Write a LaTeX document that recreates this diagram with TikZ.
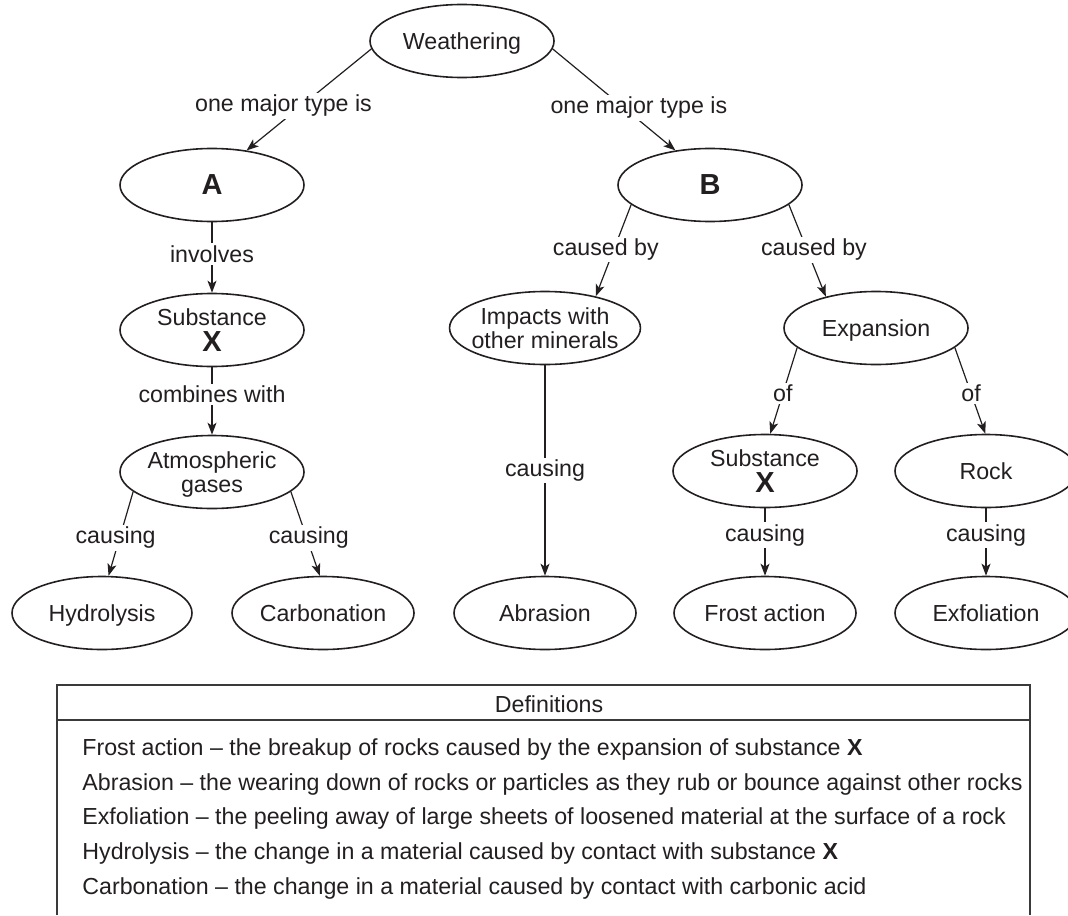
\documentclass[tikz,border=0pt]{standalone}
\usepackage{fontspec}
\setmainfont{Liberation Sans}
\usetikzlibrary{arrows.meta,shapes.geometric}
\definecolor{InkGray}{HTML}{231F20}
\definecolor{FrameGray}{HTML}{3A3A3A}

\begin{document}
\begin{tikzpicture}[x=0.5pt,y=-0.5pt,font=\fontsize{11.6}{12}\selectfont,text=InkGray]
    \tikzset{conceptbox/.style={ellipse,draw=InkGray,line width=0.8pt,minimum width=92pt,minimum height=36.5pt,inner sep=0pt,text depth=0pt,align=center},
      link/.style={draw=InkGray,line width=0.6pt,-{Stealth[length=6pt,width=4.5pt,inset=1.5pt]}},
      linklabel/.style={fill=white,inner sep=1pt},
      bigletter/.style={font=\fontsize{14.5}{16}\selectfont\bfseries},
      defline/.style={anchor=west,inner sep=0pt}}
    \useasboundingbox (0,0) rectangle (1068,915);
    \node[conceptbox] (weather) at (462,41) {Weathering};
    \node[conceptbox,bigletter] (typea) at (212,185) {A};
    \node[conceptbox,bigletter] (typeb) at (710,185) {B};
    \node[conceptbox] (substl) at (212,330) {Substance\\[1pt]{\fontsize{14.5}{14}\selectfont\bfseries X}};
    \node[conceptbox] (atmos) at (212,472) {Atmospheric\\gases};
    \node[conceptbox,minimum width=90pt] (hydro) at (102,613) {Hydrolysis};
    \node[conceptbox,minimum width=91pt] (carbo) at (323,613) {Carbonation};
    \node[conceptbox,minimum width=93pt,inner xsep=-3pt] (impact) at (545,328) {Impacts with\\other minerals};
    \node[conceptbox] (expan) at (876,328) {Expansion};
    \node[conceptbox,minimum width=91pt] (abras) at (545,613) {Abrasion};
    \node[conceptbox] (substr) at (765,471) {Substance\\[1pt]{\fontsize{14.5}{14}\selectfont\bfseries X}};
    \node[conceptbox,minimum width=91pt] (frost) at (765,613) {Frost action};
    \node[conceptbox,minimum width=91pt] (rock) at (986,471) {Rock};
    \node[conceptbox,minimum width=91pt] (exfol) at (986,613) {Exfoliation};

    \draw[link] (weather.185) -- node[linklabel,pos=0.56,xshift=-9pt] {one major type is} (typea.45);
    \draw[link] (weather.-5) -- node[linklabel,pos=0.58,xshift=7.5pt] {one major type is} (typeb.135);
    \draw[link] (typea) -- node[linklabel,pos=0.45] {involves} (substl);
    \draw[link] (substl) -- node[linklabel,pos=0.4] {combines with} (atmos);
    \draw[link] (atmos.194) -- node[linklabel,pos=0.55,xshift=-2pt] {causing} (hydro.80);
    \draw[link] (atmos.-14) -- node[linklabel,pos=0.55,xshift=1pt] {causing} (carbo.95);
    \draw[link] (typeb.194) -- node[linklabel,pos=0.49,xshift=-4pt] {caused by} (impact.32);
    \draw[link] (typeb.-14) -- node[linklabel,pos=0.49,xshift=3.5pt] {caused by} (expan.148);
    \draw[link] (impact) -- node[linklabel,pos=0.5] {causing} (abras);
    \draw[link] (expan.194) -- node[linklabel,pos=0.53] {of} (substr.82);
    \draw[link] (expan.-14) -- node[linklabel,pos=0.53] {of} (rock.91);
    \draw[link] (substr) -- node[linklabel,pos=0.4] {causing} (frost);
    \draw[link] (rock) -- node[linklabel,pos=0.4] {causing} (exfol);

    \draw[FrameGray,line width=0.75pt] (57,915) -- (57,685) -- (1030,685) -- (1030,915);
    \draw[FrameGray,line width=0.75pt] (57,720) -- (1030,720);
    \node (defhead) at (549,704) {Definitions};
    \node[defline] (deffrost) at (82,749) {Frost action – the breakup of rocks caused by the expansion of substance \textbf{X}};
    \node[defline] (defabras) at (82,784) {Abrasion – the wearing down of rocks or particles as they rub or bounce against other rocks};
    \node[defline] (defexfol) at (82,818) {Exfoliation – the peeling away of large sheets of loosened material at the surface of a rock};
    \node[defline] (defhydro) at (82,853) {Hydrolysis – the change in a material caused by contact with substance \textbf{X}};
    \node[defline] (defcarbo) at (82,888) {Carbonation – the change in a material caused by contact with carbonic acid};
  \end{tikzpicture}
\end{document}
